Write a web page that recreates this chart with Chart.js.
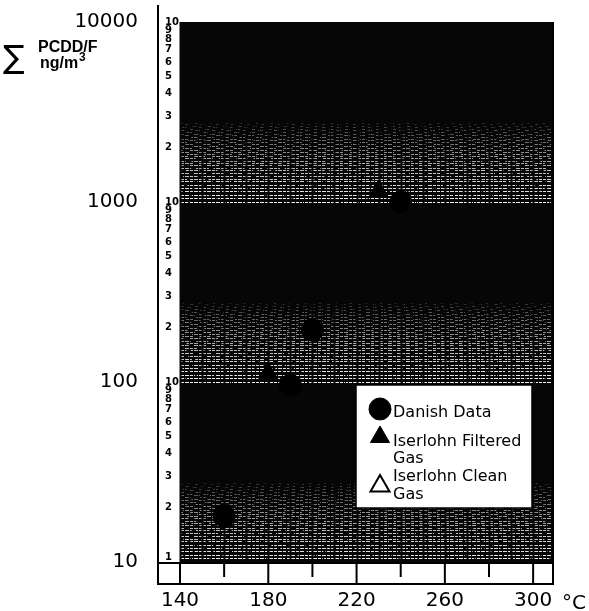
<!DOCTYPE html>
<html>
<head>
<meta charset="utf-8">
<script src="https://cdn.jsdelivr.net/npm/chart.js@4.4.1/dist/chart.umd.min.js"></script>
<style>
  html, body { margin: 0; padding: 0; background: #fff; }
</style>
</head>
<body>
<canvas id="chart" width="589" height="611"></canvas>
<script>
// values
const danishTemps = [160, 190, 200, 240];
const danishValues = [18, 96, 194, 1000];
const filteredTemps = [180, 230];
const filteredValues = [112, 1150];
const cleanTemps = [];
const cleanValues = [];

const seriesNames = ['Danish Data', 'Iserlohn Filtered Gas', 'Iserlohn Clean Gas'];
const xTicks = [140, 180, 220, 260, 300];
const xMinorTicks = [160, 200, 240, 280];
const yTicks = [10, 100, 1000, 10000];
const decades = [10, 100, 1000];
const paperDigits = [2, 3, 4, 5, 6, 7, 8, 9, 10];

const FONT = '"DejaVu Sans", sans-serif';
const TITLE_FONT = '"Liberation Sans", sans-serif';

function toPoints(xs, ys) {
  return xs.map((x, i) => ({ x: x, y: ys[i] }));
}

// log paper: black sheet with light ruled bands low in each decade
const paperPlugin = {
  id: 'paper',
  beforeDatasetsDraw(chart) {
    const { ctx, chartArea } = chart;
    const x = chart.scales.x, y = chart.scales.y;
    const left = x.getPixelForValue(140), right = chartArea.right;
    const top = y.getPixelForValue(10000), bottom = y.getPixelForValue(10);
    ctx.save();
    ctx.fillStyle = '#060606';
    ctx.fillRect(left, top, right - left, bottom - top);

    decades.forEach((d, di) => {
      for (let i = 0; i < 36; i++) {
        const t = i / 36;
        const py = Math.round(y.getPixelForValue(d * (1 + i * 0.05))) + 0.5;
        ctx.strokeStyle = 'rgba(255,255,255,' + (0.95 - t * 0.8).toFixed(2) + ')';
        ctx.lineWidth = 1;
        ctx.setLineDash([Math.max(2, 18 - t * 16), 1 + t * 12]);
        ctx.lineDashOffset = (i * 7 + di * 5) % 17;
        ctx.beginPath();
        ctx.moveTo(left, py);
        ctx.lineTo(right, py);
        ctx.stroke();
      }
    });
    ctx.setLineDash([]);

    // vertical rulings
    ctx.strokeStyle = '#060606';
    for (let t = 140; t <= 308; t += 2) {
      const px = Math.round(x.getPixelForValue(t)) + 0.5;
      ctx.lineWidth = t % 10 === 0 ? 2 : 1;
      ctx.beginPath();
      ctx.moveTo(px, top);
      ctx.lineTo(px, bottom);
      ctx.stroke();
    }
    ctx.restore();
  },
  afterDraw(chart) {
    const { ctx, chartArea } = chart;
    const x = chart.scales.x, y = chart.scales.y;
    const frameLeft = chartArea.left - 22;
    const y10 = y.getPixelForValue(10);
    ctx.save();
    ctx.strokeStyle = '#000';
    ctx.lineWidth = 2;
    ctx.beginPath();
    ctx.moveTo(frameLeft, 5);
    ctx.lineTo(frameLeft, chartArea.bottom);
    ctx.lineTo(chartArea.right, chartArea.bottom);
    ctx.lineTo(chartArea.right, chartArea.top);
    ctx.stroke();
    ctx.beginPath();
    ctx.moveTo(frameLeft, y10 + 1);
    ctx.lineTo(chartArea.right, y10 + 1);
    ctx.stroke();

    // ticks in the white strip under the paper
    xTicks.forEach(v => {
      const px = x.getPixelForValue(v);
      ctx.beginPath(); ctx.moveTo(px, y10); ctx.lineTo(px, chartArea.bottom); ctx.stroke();
    });
    xMinorTicks.forEach(v => {
      const px = x.getPixelForValue(v);
      ctx.beginPath(); ctx.moveTo(px, y10); ctx.lineTo(px, chartArea.bottom - 7); ctx.stroke();
    });

    // small printed digits of the log paper
    ctx.fillStyle = '#000';
    ctx.font = 'bold 10px ' + FONT;
    ctx.textAlign = 'left';
    ctx.textBaseline = 'middle';
    decades.forEach(d => {
      paperDigits.forEach(k => {
        ctx.fillText(String(k), frameLeft + 7, y.getPixelForValue(k * d));
      });
    });
    ctx.fillText('1', frameLeft + 7, y10 - 5);

    // axis titles
    ctx.textBaseline = 'alphabetic';
    ctx.font = '32px ' + FONT;
    ctx.fillText('\u2211', 3, 68, 24);
    ctx.font = 'bold 16px ' + TITLE_FONT;
    ctx.fillText('PCDD/F', 38, 52);
    ctx.fillText('ng/m', 40, 68);
    ctx.font = 'bold 12px ' + TITLE_FONT;
    ctx.fillText('3', 79, 61);
    ctx.font = '20px ' + FONT;
    ctx.fillText('\u00B0C', 562, 609);

    // legend box
    const bx = chartArea.right - 197, by = y.getPixelForValue(100) + 3;
    const bw = 176, bh = 123;
    ctx.fillStyle = '#fff';
    ctx.fillRect(bx, by, bw, bh);
    ctx.strokeStyle = '#000';
    ctx.lineWidth = 1.5;
    ctx.strokeRect(bx, by, bw, bh);
    const rows = [by + 24, by + 52, by + 101];
    chart.data.datasets.forEach((set, i) => {
      ctx.fillStyle = set.backgroundColor;
      ctx.strokeStyle = set.borderColor;
      ctx.lineWidth = set.borderWidth;
      Chart.helpers.drawPoint(ctx, {
        pointStyle: set.pointStyle, radius: 11, rotation: 0, borderWidth: set.borderWidth
      }, bx + 24, rows[i]);
    });
    ctx.fillStyle = '#000';
    ctx.font = '16px ' + FONT;
    const tx = bx + 37;
    ctx.fillText(seriesNames[0], tx, by + 32);
    ctx.fillText('Iserlohn Filtered', tx, by + 61);
    ctx.fillText('Gas', tx, by + 78);
    ctx.fillText('Iserlohn Clean', tx, by + 96);
    ctx.fillText('Gas', tx, by + 114);
    ctx.restore();
  }
};

new Chart(document.getElementById('chart'), {
  type: 'scatter',
  data: {
    datasets: [
      {
        label: seriesNames[0],
        data: toPoints(danishTemps, danishValues),
        pointStyle: 'circle', pointRadius: 11,
        backgroundColor: '#000', borderColor: '#000', borderWidth: 1
      },
      {
        label: seriesNames[1],
        data: toPoints(filteredTemps, filteredValues),
        pointStyle: 'triangle', pointRadius: 11,
        backgroundColor: '#000', borderColor: '#000', borderWidth: 1
      },
      {
        label: seriesNames[2],
        data: toPoints(cleanTemps, cleanValues),
        pointStyle: 'triangle', pointRadius: 11,
        backgroundColor: '#fff', borderColor: '#000', borderWidth: 2
      }
    ]
  },
  options: {
    responsive: false,
    animation: false,
    layout: { autoPadding: false, padding: { top: 22, right: 36, bottom: 0, left: 0 } },
    plugins: { legend: { display: false }, tooltip: { enabled: false } },
    scales: {
      x: {
        type: 'linear', min: 140, max: 309,
        grid: { display: false, drawTicks: false },
        border: { display: false },
        afterFit: s => { s.height = 27; },
        afterBuildTicks: s => { s.ticks = xTicks.map(v => ({ value: v })); },
        ticks: { color: '#000', padding: 5, font: { family: FONT, size: 20 }, maxRotation: 0 }
      },
      y: {
        type: 'logarithmic', min: 7.547, max: 10000,
        // invisible tick marks push the labels out to the left of the frame
        grid: { display: true, drawOnChartArea: false, drawTicks: true, tickLength: 40, color: 'rgba(0,0,0,0)' },
        border: { display: false },
        afterFit: s => { s.width = 180; },
        afterBuildTicks: s => { s.ticks = yTicks.map(v => ({ value: v })); },
        ticks: { color: '#000', padding: 2, font: { family: FONT, size: 20 },
          callback: v => String(v) }
      }
    }
  },
  plugins: [paperPlugin]
});
</script>
</body>
</html>
